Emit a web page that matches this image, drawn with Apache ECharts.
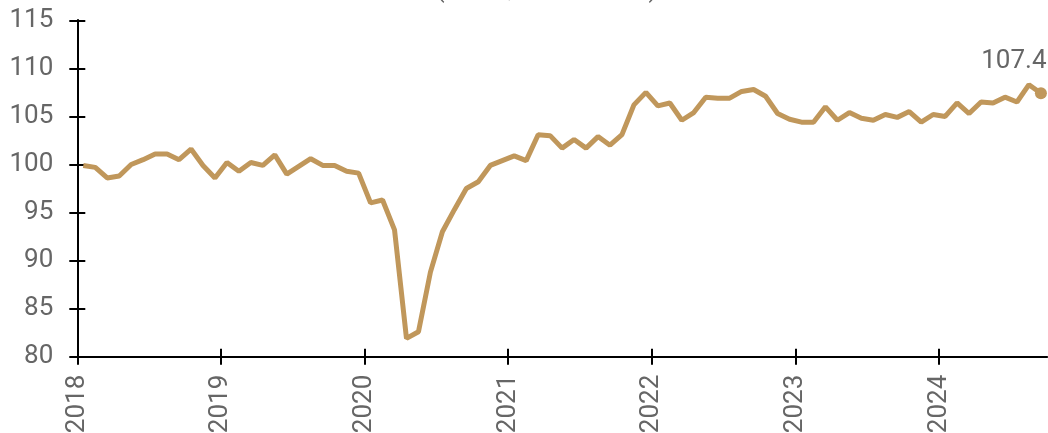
<!DOCTYPE html>
<html><head><meta charset="utf-8">
<script src="https://cdn.jsdelivr.net/npm/echarts@6/dist/echarts.min.js"></script>
<style>html,body{margin:0;padding:0;background:#fff}#c{width:1048px;height:433px}</style>
</head><body><div id="c"></div>
<script>
const titleText = '(Index, 2018 = 100)';
const yearLabels = ['2018', '2019', '2020', '2021', '2022', '2023', '2024'];
// Monthly values, Jan 2018 – Sep 2024
const values = [
  99.9, 99.7, 98.6, 98.8, 100.0, 100.5, 101.1, 101.1, 100.5, 101.6, 99.9, 98.6,
  100.2, 99.3, 100.2, 99.9, 101.0, 99.0, 99.8, 100.6, 99.9, 99.9, 99.3, 99.1,
  96.0, 96.3, 93.2, 81.9, 82.6, 88.8, 93.0, 95.3, 97.5, 98.2, 99.9, 100.4,
  100.9, 100.4, 103.1, 103.0, 101.7, 102.6, 101.7, 102.9, 102.0, 103.1, 106.2, 107.5,
  106.1, 106.4, 104.6, 105.4, 107.0, 106.9, 106.9, 107.6, 107.8, 107.1, 105.3, 104.7,
  104.4, 104.4, 106.0, 104.6, 105.4, 104.8, 104.6, 105.2, 104.9, 105.5, 104.4, 105.2,
  105.0, 106.4, 105.3, 106.5, 106.4, 107.0, 106.5, 108.3, 107.4
];
const yMin = 80, yMax = 115, yStep = 5;

const monthsPerYear = 12;
const yearTicks = yearLabels.map((_, k) => k * monthsPerYear);
const axisMax = values.length;
const lastIdx = values.length - 1;
const seriesData = values.map((v, i) => {
  const pt = [i + 0.5, v];
  if (i === lastIdx) {
    return {
      value: pt,
      symbol: 'circle',
      symbolSize: 12,
      label: {
        show: true,
        position: 'top',
        distance: 4,
        offset: [-27, -9],
        formatter: () => v.toFixed(1),
        color: '#666666',
        fontSize: 26,
        fontFamily: 'Roboto'
      }
    };
  }
  return { value: pt, symbol: 'none' };
});

const black = '#000000';
const grey = '#666666';
const gold = '#c0975b';

function xAxisDef(inside, showLabel) {
  return {
    type: 'value', min: 0, max: axisMax, position: 'bottom',
    axisLine: { show: true, lineStyle: { color: black, width: 2 } },
    axisTick: { show: true, inside: inside, length: 8, customValues: yearTicks, lineStyle: { color: black, width: 2 } },
    axisLabel: {
      show: showLabel, customValues: yearTicks, rotate: 90, margin: 18,
      color: grey, fontSize: 26, fontFamily: 'Roboto',
      formatter: v => yearLabels[Math.round(v / monthsPerYear)] || ''
    },
    splitLine: { show: false }
  };
}
function yAxisDef(inside, showLabel) {
  return {
    type: 'value', min: yMin, max: yMax, interval: yStep, position: 'left',
    axisLine: { show: true, lineStyle: { color: black, width: 2 } },
    axisTick: { show: true, inside: inside, length: 8, lineStyle: { color: black, width: 2 } },
    axisLabel: { show: showLabel, margin: 24, color: grey, fontSize: 26, fontFamily: 'Roboto' },
    splitLine: { show: false }
  };
}

const chart = echarts.init(document.getElementById('c'), null, { renderer: 'canvas' });
chart.setOption({
  animation: false,
  backgroundColor: '#ffffff',
  grid: { left: 77.3, right: 1.1, top: 20.3, bottom: 76.3, outerBoundsMode: 'none', containLabel: false },
  graphic: [{
    type: 'text', x: 546.7, y: 3,
    style: { text: titleText, align: 'center', verticalAlign: 'bottom', fill: grey, fontSize: 26, fontFamily: 'Roboto' }
  }],
  xAxis: [xAxisDef(false, true), xAxisDef(true, false)],
  yAxis: [yAxisDef(false, true), yAxisDef(true, false)],
  series: [{
    type: 'line',
    xAxisIndex: 0, yAxisIndex: 0,
    data: seriesData,
    lineStyle: { color: gold, width: 5 },
    itemStyle: { color: gold },
    symbol: 'none',
    z: 3
  }]
});
</script>
</body></html>
